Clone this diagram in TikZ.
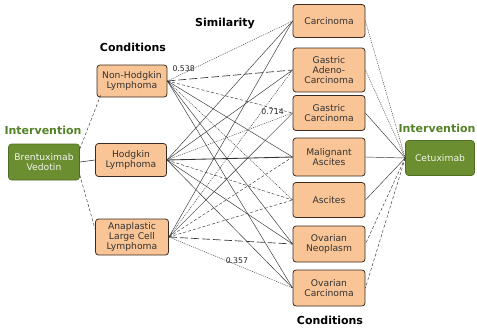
\documentclass[tikz,border=0pt]{standalone}
\usepackage{fontspec}
\setmainfont{DejaVu Sans}
\usetikzlibrary{calc}
\definecolor{condfill}{RGB}{249,196,150}
\definecolor{condedge}{RGB}{60,42,30}
\definecolor{drugfill}{RGB}{107,142,48}
\definecolor{drugedge}{RGB}{80,110,35}
\definecolor{drugtext}{RGB}{84,130,38}
\definecolor{linkgray}{RGB}{50,50,50}
\tikzset{
  cond/.style={draw=condedge, line width=0.8pt, fill=condfill, rounded corners=3pt,
    align=center, inner sep=0pt, text=black!80,
    font=\fontsize{9.2}{10}\selectfont},
  drug/.style={draw=drugedge, line width=0.6pt, fill=drugfill, rounded corners=3pt,
    align=center, inner sep=0pt, text=white!92!drugfill,
    font=\fontsize{9.2}{10}\selectfont},
  heading/.style={font=\bfseries\fontsize{11}{13}\selectfont},
  greenhead/.style={heading, text=drugtext},
  score/.style={font=\fontsize{7.8}{9}\selectfont, text=black!85, inner sep=1pt},
  link/.style={draw=linkgray, line width=0.45pt},
  dot/.style={link, dash pattern=on 1pt off 1pt},
  dsh/.style={link, dash pattern=on 3pt off 2pt},
  ldsh/.style={link, line width=0.65pt, dash pattern=on 8pt off 3pt},
  heavy/.style={link, line width=0.85pt}
}
\begin{document}
\begin{tikzpicture}[x=1pt,y=-1pt]
\useasboundingbox (0,0) rectangle (477,330);

% headings
\node[heading] (simh) at (225,24) {Similarity};
\node[heading] (condl) at (133,47) {Conditions};
\node[heading] (condr) at (330,320) {Conditions};
\node[greenhead] (intl) at (43,130) {Intervention};
\node[greenhead] (intr) at (437,128) {Intervention};

% interventions
\node[drug, minimum width=71pt, minimum height=36pt] (brent) at (44,162) {Brentuximab\\Vedotin};
\node[drug, minimum width=69pt, minimum height=35pt] (cetux) at (440,158) {Cetuximab};

% left conditions
\node[cond, minimum width=70pt, minimum height=32pt] (nhl) at (132,81) {Non-Hodgkin\\Lymphoma};
\node[cond, minimum width=71pt, minimum height=33pt] (hl) at (131,160) {Hodgkin\\Lymphoma};
\node[cond, minimum width=73pt, minimum height=36pt] (alcl) at (132,237) {Anaplastic\\Large Cell\\Lymphoma};

% right conditions
\node[cond, minimum width=72pt, minimum height=33pt] (carc) at (329,21) {Carcinoma};
\node[cond, minimum width=72pt, minimum height=44pt] (gac) at (329,70) {Gastric\\Adeno-\\Carcinoma};
\node[cond, minimum width=72pt, minimum height=35pt] (gc) at (329,113) {Gastric\\Carcinoma};
\node[cond, minimum width=72pt, minimum height=38pt] (ma) at (329,157) {Malignant\\Ascites};
\node[cond, minimum width=72pt, minimum height=35pt] (asc) at (329,200) {Ascites};
\node[cond, minimum width=72pt, minimum height=36pt] (on) at (329,244) {Ovarian\\Neoplasm};
\node[cond, minimum width=72pt, minimum height=36pt] (oc) at (329,288) {Ovarian\\Carcinoma};

% intervention links
\draw[dsh] (brent.20) -- ($(nhl.south west)+(4,-2)$);
\draw[link, line width=0.55pt] (brent.east) -- (hl.west);
\draw[dsh] (brent.-20) -- (alcl.168);

\draw[dot] (cetux.west) -- (carc.east);
\draw[dot] (cetux.west) -- (gac.east);
\draw[link] (cetux.west) -- (gc.east);
\draw[link] (cetux.west) -- (ma.east);
\draw[link] (cetux.west) -- (asc.east);
\draw[dsh] (cetux.west) -- (on.east);
\draw[dsh] (cetux.west) -- (oc.east);

% similarity links: Non-Hodgkin Lymphoma
\draw[dot] (nhl.east) -- node[score, pos=0.13, above] (s1) {0.538} (carc.west);
\draw[ldsh] (nhl.east) -- (gac.west);
\draw[dsh] (nhl.east) -- node[score, pos=0.84, below] (s2) {0.714} (gc.west);
\draw[link] (nhl.east) -- (ma.west);
\draw[dot] (nhl.east) -- (asc.west);
\draw[link] (nhl.east) -- (on.west);
\draw[link] (nhl.east) -- (oc.west);

% similarity links: Hodgkin Lymphoma
\draw[link] (hl.east) -- (carc.west);
\draw[link] (hl.east) -- (gac.west);
\draw[dot] (hl.east) -- (gc.west);
\draw[heavy] (hl.east) -- (ma.west);
\draw[dsh] (hl.east) -- (asc.west);
\draw[link] (hl.east) -- (on.west);
\draw[link] (hl.east) -- (oc.west);

% similarity links: Anaplastic Large Cell Lymphoma
\draw[link] (alcl.east) -- (carc.west);
\draw[dot] (alcl.east) -- (gac.west);
\draw[link] (alcl.east) -- (gc.west);
\draw[dsh] (alcl.east) -- (ma.west);
\draw[dsh] (alcl.east) -- (asc.west);
\draw[ldsh] (alcl.east) -- (on.west);
\draw[dot] (alcl.east) -- node[score, pos=0.55, above] (s3) {0.357} (oc.west);
\end{tikzpicture}
\end{document}
